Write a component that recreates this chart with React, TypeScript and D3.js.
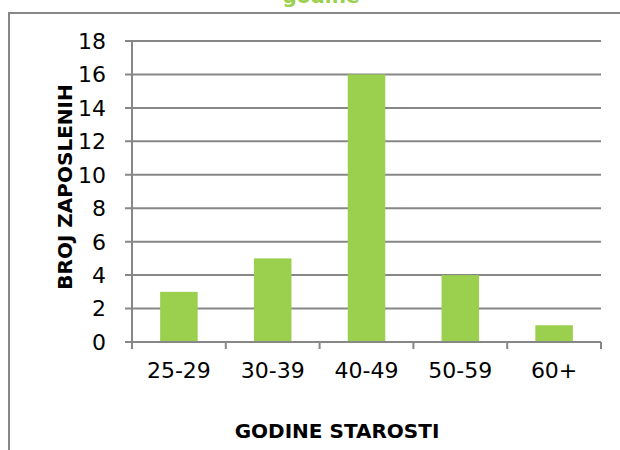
import React from "react";
import * as d3 from "d3";

const categories = ["25-29", "30-39", "40-49", "50-59", "60+"];
const values = [3, 5, 16, 4, 1];
const yTicks = [0, 2, 4, 6, 8, 10, 12, 14, 16, 18];
const titleText = "godine";
const xTitle = "GODINE STAROSTI";
const yTitle = "BROJ ZAPOSLENIH";

const W = 620;
const H = 450;
const left = 132;
const right = 601;
const top = 41;
const bottom = 342;
const font = "'DejaVu Sans', sans-serif";
const gridColor = "#878787";
const barColor = "#9BCF4E";

export default function App() {
  const x = d3.scaleBand<string>().domain(categories).range([left, right]).paddingInner(0).paddingOuter(0);
  const y = d3.scaleLinear().domain([0, 18]).range([bottom, top]);
  const bw = x.bandwidth() * 0.4;
  const boundaries = categories.map((c) => x(c) as number).concat([right]);

  return (
    <svg width={W} height={H} style={{ position: "absolute", left: 0, top: 0 }} fontFamily={font}>
      <rect width={W} height={H} fill="#fff" />
      {/* partial title at top */}
      <text x={321} y={3} textAnchor="middle" fill={barColor} fontWeight="bold" fontSize={20}>
        {titleText}
      </text>
      {/* outer border */}
      <path d={`M9,${H} V13 H${W}`} fill="none" stroke={gridColor} strokeWidth={2} />
      {/* gridlines */}
      {yTicks.map((t) => (
        <line key={t} x1={left - 7} x2={right} y1={y(t)} y2={y(t)} stroke={gridColor} strokeWidth={2} />
      ))}
      {/* bars */}
      {categories.map((c, i) => (
        <rect
          key={c}
          x={(x(c) as number) + (x.bandwidth() - bw) / 2}
          y={y(values[i])}
          width={bw}
          height={bottom - y(values[i])}
          fill={barColor}
        />
      ))}
      {/* y axis */}
      <line x1={left} x2={left} y1={top} y2={bottom} stroke={gridColor} strokeWidth={2} />
      {/* x axis */}
      <line x1={left} x2={right} y1={bottom} y2={bottom} stroke={gridColor} strokeWidth={2} />
      {boundaries.map((b, i) => (
        <line key={i} x1={b} x2={b} y1={bottom} y2={bottom + 7} stroke={gridColor} strokeWidth={2} />
      ))}
      {/* y tick labels */}
      {yTicks.map((t) => (
        <text key={t} x={106} y={y(t)} dy="0.36em" textAnchor="end" fontSize={22} fill="#000">
          {t}
        </text>
      ))}
      {/* x tick labels */}
      {categories.map((c) => (
        <text key={c} x={(x(c) as number) + x.bandwidth() / 2} y={378} textAnchor="middle" fontSize={22} fill="#000">
          {c}
        </text>
      ))}
      {/* axis titles */}
      <text x={337} y={438} textAnchor="middle" fontWeight="bold" fontSize={20} fill="#000">
        {xTitle}
      </text>
      <text
        transform={`translate(72,187) rotate(-90)`}
        textAnchor="middle"
        fontWeight="bold"
        fontSize={20}
        fill="#000"
      >
        {yTitle}
      </text>
    </svg>
  );
}
